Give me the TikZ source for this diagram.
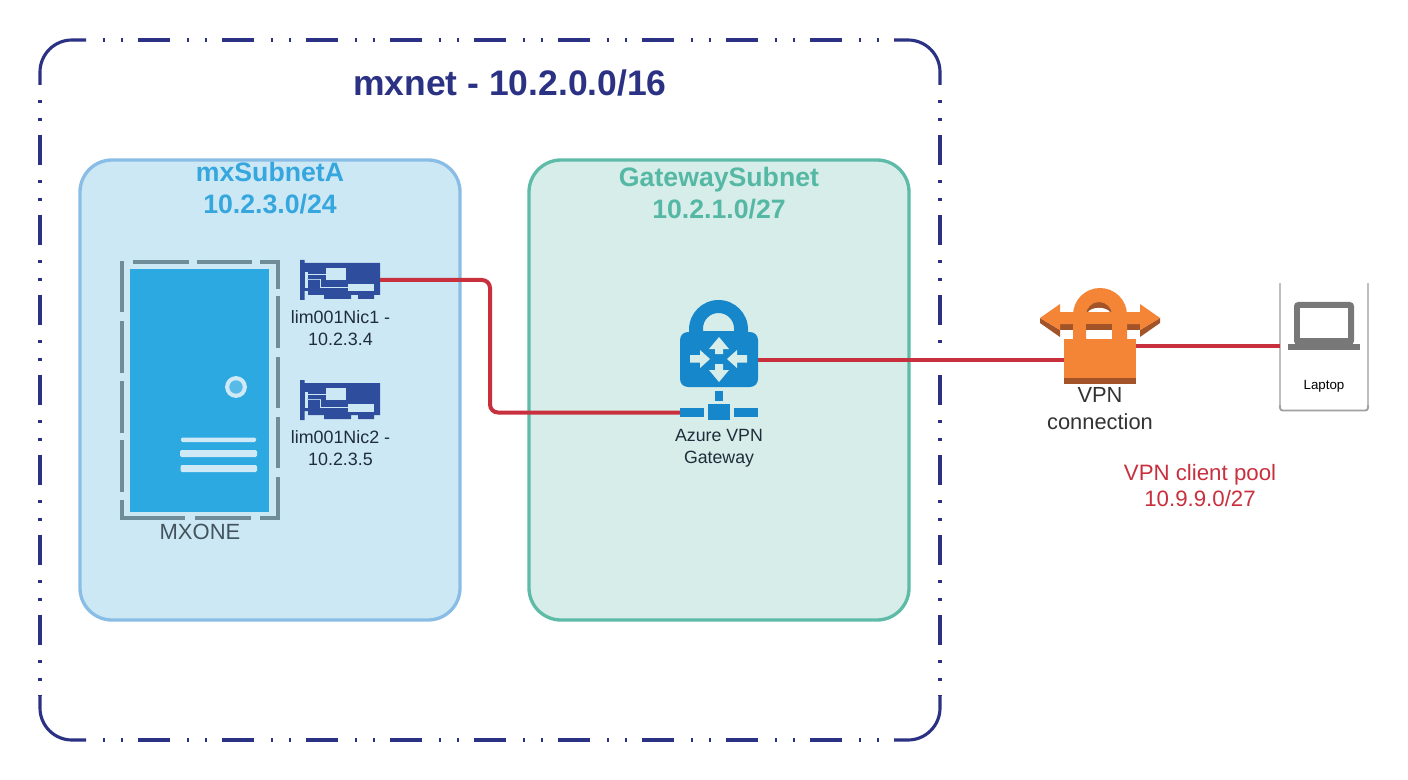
\documentclass[tikz,border=0pt]{standalone}
\usepackage{fontspec}
\setmainfont{Liberation Sans}
\usetikzlibrary{calc}
\definecolor{frameblue}{HTML}{2B3183}
\definecolor{subAfill}{HTML}{CDE8F5}
\definecolor{subAline}{HTML}{8ABDE6}
\definecolor{subAtext}{HTML}{35A6DE}
\definecolor{subBfill}{HTML}{D7EDE9}
\definecolor{subBline}{HTML}{5DBBA8}
\definecolor{subBtext}{HTML}{55B8A4}
\definecolor{linkred}{HTML}{C9303E}
\definecolor{srvgrey}{HTML}{6F8C9B}
\definecolor{srvblue}{HTML}{2DA9E1}
\definecolor{srvlight}{HTML}{CFE9F6}
\definecolor{nicblue}{HTML}{2E4E9D}
\definecolor{gwblue}{HTML}{1787CB}
\definecolor{vpnorange}{HTML}{F58536}
\definecolor{vpndark}{HTML}{A35328}
\definecolor{lapgrey}{HTML}{787878}
\definecolor{darktext}{HTML}{1F2D3A}
\tikzset{
  x=0.75pt,y=-0.75pt,
  framepart/.style={draw=frameblue,line width=2.35pt},
  subnetbox/.style={draw,rounded corners=24pt,line width=2.5pt,minimum width=285pt,minimum height=345pt,inner sep=0pt,outer sep=0pt},
  txt/.style={inner sep=0pt,outer sep=0pt,align=center},
  iconbox/.style={inner sep=0pt,outer sep=0pt,minimum width=#1},
  redlink/.style={draw=linkred,line width=3pt},
  srvdash/.style={draw=srvgrey,line width=3.2pt},
}
\newcommand{\nicicon}[1]{%
  \begin{scope}[yshift=#1]
    \fill[nicblue] (300,260) -- (304.5,260) -- (304.5,263) -- (380,263) -- (380,295) -- (374,295) -- (374,299) -- (358,299) -- (358,295) -- (351,295) -- (351,299) -- (324,299) -- (324,295) -- (308,295) -- (308,291) -- (304.5,291) -- (304.5,300) -- (300,300) -- cycle;
    \fill[subAfill] (326,268) rectangle (346,280);
    \fill[subAfill] (348,284) rectangle (374,291.5);
    \fill[subAfill] (304.5,272) rectangle (307.5,288);
    \draw[subAfill,line width=0.6pt] (307,274.5) -- (326,274.5);
    \draw[subAfill!80!nicblue,line width=1.3pt] (307,279.5) -- (320.5,279.5);
    \draw[subAfill,line width=0.6pt] (320.5,279.5) -- (320.5,287.5) -- (348,287.5);
  \end{scope}}
\begin{document}
\begin{tikzpicture}
\useasboundingbox (0,0) rectangle (1408,780);
\fill[white] (0,0) rectangle (1408,780);

% outer frame
\draw[framepart,rounded corners=24pt] (40,85) -- (40,40) -- (86,40);
\draw[framepart,rounded corners=24pt] (894,40) -- (940,40) -- (940,85);
\draw[framepart,rounded corners=24pt] (40,695) -- (40,740) -- (86,740);
\draw[framepart,rounded corners=24pt] (894,740) -- (940,740) -- (940,695);
\draw[framepart,dash pattern=on 0pt off 12.4pt on 2.2pt off 11.3pt on 2.2pt off 10.9pt on 24pt off 0pt] (86,40) -- (894,40);
\draw[framepart,dash pattern=on 0pt off 12.4pt on 2.2pt off 11.3pt on 2.2pt off 10.9pt on 24pt off 0pt] (86,740) -- (894,740);
\draw[framepart,dash pattern=on 0pt off 11.3pt on 2.2pt off 11pt on 2.2pt off 10.6pt on 22.7pt off 0pt] (40,85) -- (40,695);
\draw[framepart,dash pattern=on 0pt off 11.3pt on 2.2pt off 11pt on 2.2pt off 10.6pt on 22.7pt off 0pt] (940,85) -- (940,695);
\node[txt,text=frameblue,font=\bfseries\fontsize{26.6pt}{30pt}\selectfont] (mxnet) at (510,83) {mxnet - 10.2.0.0/16};

% subnets
\node[subnetbox,draw=subAline,fill=subAfill] (subA) at (270,390) {};
\node[subnetbox,draw=subBline,fill=subBfill] (subB) at (719,390) {};
\node[txt,text=subAtext,font=\bfseries\fontsize{20pt}{24pt}\selectfont] (subAt) at (270,188) {mxSubnetA\\10.2.3.0/24};
\node[txt,text=subBtext,font=\bfseries\fontsize{20pt}{24pt}\selectfont] (subBt) at (719,193) {GatewaySubnet\\10.2.1.0/27};

% server
\fill[srvblue] (130,269) rectangle (269,512);
\fill[srvlight] (236,387) circle[radius=8.2pt];
\fill[srvblue!80!white] (236,387) circle[radius=5pt];
\fill[srvlight,rounded corners=1pt] (181,437.5) rectangle (256,442);
\fill[srvlight,rounded corners=1pt] (180,450) rectangle (257,457);
\fill[srvlight,rounded corners=1pt] (180.5,465) rectangle (257,472);
\draw[srvdash] (122,312) -- (122,261);
\draw[srvdash] (122,321) -- (122,373);
\draw[srvdash] (122,381) -- (122,433);
\draw[srvdash] (122,440) -- (122,492);
\draw[srvdash] (122,500) -- (122,518) -- (185,518);
\draw[srvdash] (195,518) -- (251,518);
\draw[srvdash] (260,518) -- (278,518) -- (278,477);
\draw[srvdash] (278,468) -- (278,417);
\draw[srvdash] (278,408) -- (278,357);
\draw[srvdash] (278,348) -- (278,296);
\draw[srvdash] (278,289) -- (278,262) -- (260,262);
\draw[srvdash] (252,262) -- (197,262);
\draw[srvdash] (189,262) -- (133,262);
\node[txt,text=srvgrey!60!black,font=\fontsize{16.5pt}{20pt}\selectfont] (mxone) at (200,532) {MXONE};

% NICs
\nicicon{0pt}
\nicicon{-90pt}
\node[iconbox=60pt,minimum height=27pt] (nicA) at (340,280) {};
\node[iconbox=60pt,minimum height=27pt] (nicB) at (340,400) {};
\node[txt,text=darktext,font=\fontsize{13.4pt}{16.5pt}\selectfont] (nicAt) at (340.5,328.5) {lim001Nic1 -\\10.2.3.4};
\node[txt,text=darktext,font=\fontsize{13.4pt}{16.5pt}\selectfont] (nicBt) at (340.5,448.5) {lim001Nic2 -\\10.2.3.5};

% gateway icon nodes
\node[iconbox=58.5pt,minimum height=41.25pt,fill=gwblue,rounded corners=6pt] (gwlock) at (719,359.5) {};
\node[iconbox=18pt,minimum height=6.75pt,fill=gwblue] (gwleft) at (692,412.5) {};
\node[iconbox=16.5pt,minimum height=12pt,fill=gwblue] (gwmid) at (719,412) {};
\node[iconbox=18pt,minimum height=6.75pt,fill=gwblue] (gwright) at (746,412.5) {};
\fill[gwblue] (715,391) rectangle (723,401);
\fill[gwblue,even odd rule] (689,336) -- (689,329.5) arc[start angle=180,end angle=360,radius=29.5] -- (748,336) -- cycle
  (703,332) -- (703,328.5) arc[start angle=180,end angle=360,radius=15.5] -- (734,332) -- (734,336) -- (703,336) -- cycle;
\fill[gwblue] (695,331) rectangle (742,340);
\fill[subBfill] (719,337) -- (729,349) -- (723,349) -- (723,354) -- (715,354) -- (715,349) -- (709,349) -- cycle;
\fill[subBfill] (719,382) -- (729,370) -- (723,370) -- (723,364) -- (715,364) -- (715,370) -- (709,370) -- cycle;
\fill[subBfill] (710,359) -- (700,350) -- (700,355) -- (690,355) -- (690,362.5) -- (700,362.5) -- (700,368) -- cycle;
\fill[subBfill] (727,359) -- (737,350) -- (737,355) -- (747,355) -- (747,362.5) -- (737,362.5) -- (737,368) -- cycle;
\node[txt,text=darktext,font=\fontsize{13.3pt}{16.5pt}\selectfont] (gwt) at (719,448) {Azure VPN\\Gateway};

% VPN icon
\fill[vpndark] (1040,318) -- (1040,323) -- (1060,337) -- (1060,330) -- cycle;
\fill[vpndark] (1160,318) -- (1160,323) -- (1140,337) -- (1140,330) -- cycle;
\fill[vpndark] (1060,324) rectangle (1140,330);
\fill[vpndark] (1086,312) -- (1086,304) arc[start angle=180,end angle=360,radius=13] -- (1112,312) -- cycle;
\fill[white] (1088,312) .. controls (1092,306.5) and (1106,306.5) .. (1110,312) -- cycle;
\fill[vpnorange,even odd rule] (1073,340) -- (1073,315) arc[start angle=180,end angle=360,radius=27] -- (1127,340) -- cycle
  (1086,340) -- (1086,315) arc[start angle=180,end angle=360,radius=13] -- (1112,340) -- cycle;
\fill[vpnorange] (1040,318) -- (1060,304) -- (1060,312) -- (1140,312) -- (1140,304) -- (1160,318) -- (1140,330) -- (1140,324) -- (1060,324) -- (1060,330) -- cycle;
\fill[vpndark] (1086,324) rectangle (1112,330);
\fill[vpnorange] (1073,324) rectangle (1086,340);
\fill[vpnorange] (1112,324) rectangle (1127,340);
\node[iconbox=54pt,minimum height=33.75pt,fill=vpnorange] (vpn) at (1100,361.5) {};
\fill[vpndark] (1064,378) rectangle (1136,384);
\node[txt,text=black!80,font=\fontsize{16.4pt}{20.2pt}\selectfont] (vpnt) at (1100,408.5) {VPN\\connection};
\node[txt,text=linkred,font=\fontsize{16.7pt}{19.5pt}\selectfont] (poolt) at (1200,486) {VPN client pool\\10.9.9.0/27};

% laptop
\node[iconbox=66pt,minimum height=97.5pt] (laptop) at (1324,346) {};
\draw[black!25,line width=0.8pt] (1280,283) -- (1280,408);
\draw[black!25,line width=0.8pt] (1368,283) -- (1368,408);
\draw[lapgrey!70,line width=1.4pt,rounded corners=2pt] (1280,405) -- (1280,410.5) -- (1368,410.5) -- (1368,405);
\fill[lapgrey,rounded corners=3pt] (1294,302) rectangle (1354,345);
\fill[white] (1300,308) rectangle (1348,338);
\fill[lapgrey] (1288,344) rectangle (1360,350);
\node[txt,text=black,font=\fontsize{10pt}{11pt}\selectfont] (lapt) at (1324,386) {Laptop};

% connectors
\coordinate (turn) at (490,345);
\draw[redlink,rounded corners=6pt] (nicA.east) -| (turn) |- (gwleft.west);
\draw[redlink] (gwlock.east) -- (gwlock.east -| vpn.west);
\draw[redlink] (laptop.west -| vpn.east) -- (laptop.west);
\end{tikzpicture}
\end{document}
